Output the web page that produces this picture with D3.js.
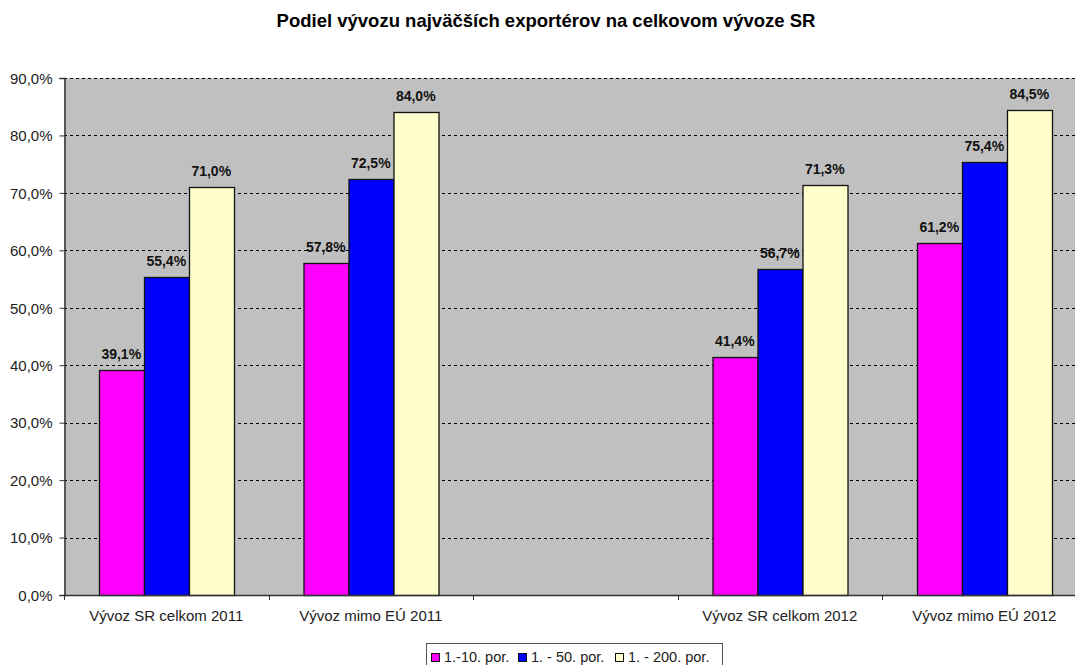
<!DOCTYPE html>
<html>
<head>
<meta charset="utf-8">
<script src="https://cdn.jsdelivr.net/npm/d3@7"></script>
<style>
  body { margin: 0; background: #fff; }
  svg { display: block; font-family: "Liberation Sans", Arial, sans-serif; }
</style>
</head>
<body>
<div id="chart"></div>
<script>
  'use strict';

  // categories (third slot is an empty gap in the original)
  const categories = ["Vývoz SR celkom 2011", "Vývoz mimo EÚ 2011", "", "Vývoz SR celkom 2012", "Vývoz mimo EÚ 2012"];
  const seriesNames = ["1.-10. por.", "1. - 50. por.", "1. - 200. por."];
  const seriesColors = ["#ff00ff", "#0000ff", "#ffffcc"];
  const top10 = [39.1, 57.8, null, 41.4, 61.2];
  const top50 = [55.4, 72.5, null, 56.7, 75.4];
  const top200 = [71.0, 84.0, null, 71.3, 84.5];
  const yTicks = [0, 10, 20, 30, 40, 50, 60, 70, 80, 90];

  const size = { width: 1075, height: 665 };
  const plot = { left: 64, top: 78, right: 1086.5, bottom: 595 };

  const fmt = v => v.toFixed(1).replace(".", ",") + "%";

  const svg = d3.select("#chart").append("svg")
    .attr("width", size.width)
    .attr("height", size.height);

  const x = d3.scaleBand().domain(d3.range(categories.length)).range([plot.left, plot.right]);
  const xs = d3.scaleBand().domain(d3.range(seriesNames.length))
    .range([0, x.bandwidth()]).paddingInner(0).paddingOuter(0.772);
  const y = d3.scaleLinear().domain([0, 90]).range([plot.bottom, plot.top]);

  // title
  svg.append("text")
    .attr("x", 546).attr("y", 27)
    .attr("text-anchor", "middle")
    .attr("font-size", 18.5).attr("font-weight", "bold")
    .attr("fill", "#000")
    .text("Podiel vývozu najväčších exportérov na celkovom vývoze SR");

  // plot background
  svg.append("rect")
    .attr("x", plot.left).attr("y", plot.top)
    .attr("width", plot.right - plot.left).attr("height", plot.bottom - plot.top)
    .attr("fill", "#c0c0c0");

  // dashed grid
  svg.append("g").selectAll("line")
    .data(yTicks.filter(d => d > 0))
    .join("line")
    .attr("x1", plot.left).attr("x2", plot.right)
    .attr("y1", d => Math.round(y(d)) + 0.5).attr("y2", d => Math.round(y(d)) + 0.5)
    .attr("stroke", "#000").attr("stroke-dasharray", "3,3");

  // bars
  const rows = categories.map((c, i) => [top10[i], top50[i], top200[i]]);
  const groups = svg.append("g").selectAll("g")
    .data(rows)
    .join("g")
    .attr("transform", (d, i) => "translate(" + x(i) + ",0)");

  groups.selectAll("rect")
    .data(d => d.map((v, s) => ({ v, s })).filter(e => e.v !== null))
    .join("rect")
    .attr("x", e => Math.round(xs(e.s)) + 0.5)
    .attr("y", e => Math.round(y(e.v)) + 0.5)
    .attr("width", Math.round(xs.bandwidth()))
    .attr("height", e => Math.round(y(0)) - Math.round(y(e.v)))
    .attr("fill", e => seriesColors[e.s])
    .attr("stroke", "#111").attr("stroke-width", 1.3);

  groups.selectAll("text")
    .data(d => d.map((v, s) => ({ v, s })).filter(e => e.v !== null))
    .join("text")
    .attr("x", e => xs(e.s) + xs.bandwidth() / 2)
    .attr("y", e => y(e.v) - 11)
    .attr("text-anchor", "middle")
    .attr("font-size", 14).attr("font-weight", "bold")
    .attr("fill", "#111")
    .text(e => fmt(e.v));

  // y axis
  const yAxis = d3.axisLeft(y).tickValues(yTicks).tickFormat(fmt).tickSizeOuter(0).tickSize(5);
  const yg = svg.append("g")
    .attr("transform", "translate(" + (plot.left + 0.5) + ",0)")
    .call(yAxis);
  yg.attr("font-family", null).attr("font-size", null);
  yg.select(".domain").attr("stroke", "#333").attr("stroke-width", 1.5);
  yg.selectAll(".tick line").attr("stroke", "#333");
  yg.selectAll(".tick text")
    .attr("font-size", 15).attr("fill", "#222").attr("x", -12).attr("dy", "0.35em");

  // x axis: ticks at category boundaries
  const bounds = d3.range(categories.length + 1).map(i => plot.left + i * x.step());
  svg.append("line")
    .attr("x1", plot.left).attr("x2", plot.right)
    .attr("y1", plot.bottom + 0.5).attr("y2", plot.bottom + 0.5)
    .attr("stroke", "#333").attr("stroke-width", 1.5);
  svg.append("g").selectAll("line")
    .data(bounds)
    .join("line")
    .attr("x1", d => Math.round(d) + 0.5).attr("x2", d => Math.round(d) + 0.5)
    .attr("y1", plot.bottom).attr("y2", plot.bottom + 5)
    .attr("stroke", "#333");
  svg.append("g").selectAll("text")
    .data(categories)
    .join("text")
    .attr("x", (d, i) => x(i) + x.bandwidth() / 2)
    .attr("y", 621)
    .attr("text-anchor", "middle")
    .attr("font-size", 15).attr("fill", "#222")
    .text(d => d);

  // legend
  const legend = svg.append("g").attr("transform", "translate(426,643)");
  legend.append("rect")
    .attr("x", 0.5).attr("y", 0.5).attr("width", 296).attr("height", 24)
    .attr("fill", "#fff").attr("stroke", "#555");
  const legendX = [5, 92, 189];
  const items = legend.selectAll("g.item")
    .data(seriesNames)
    .join("g")
    .attr("class", "item")
    .attr("transform", (d, i) => "translate(" + legendX[i] + ",0)");
  items.append("rect")
    .attr("x", 0.5).attr("y", 10.5).attr("width", 8).attr("height", 8)
    .attr("fill", (d, i) => seriesColors[i]).attr("stroke", "#111");
  items.append("text")
    .attr("x", 13).attr("y", 19)
    .attr("font-size", 14.5).attr("fill", "#222")
    .text(d => d);
</script>
</body>
</html>
